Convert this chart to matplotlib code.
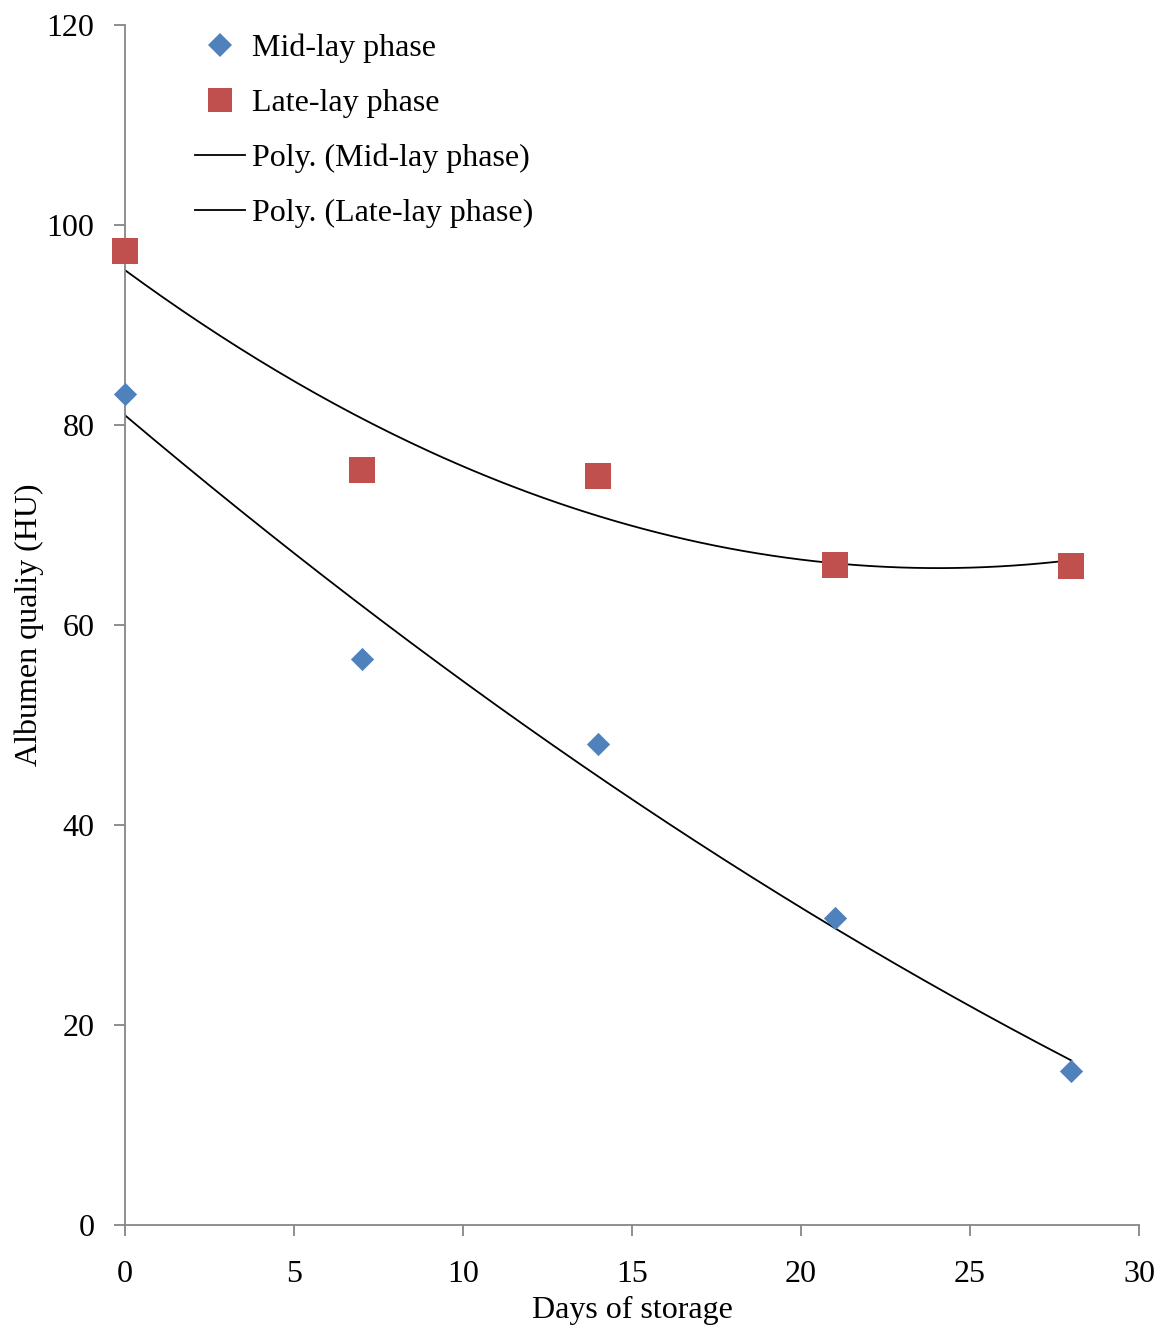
import numpy as np
import matplotlib.pyplot as plt
from matplotlib.lines import Line2D

# data
days = [0, 7, 14, 21, 28]
mid_lay = [83.1, 56.6, 48.1, 30.7, 15.4]
late_lay = [97.4, 75.5, 74.9, 66.0, 65.9]

plt.rcParams['font.family'] = ['Liberation Serif', 'DejaVu Serif']

fig = plt.figure(figsize=(11.69, 13.28), dpi=100)
ax = fig.add_axes([0.1069, 0.0776, 0.8674, 0.9036])

blue = '#4F81BD'
red = '#C0504D'
grey = '#868686'
fs = 23

ax.scatter(days, mid_lay, marker='D', s=140, color=blue, zorder=3,
           linewidths=0, clip_on=False)
ax.scatter(days, late_lay, marker='s', s=330, color=red, zorder=3,
           linewidths=0, clip_on=False)

# 2nd order polynomial trendlines
xs = np.linspace(0, 28, 200)
p_mid = np.polyfit(days, mid_lay, 2)
p_late = np.polyfit(days, late_lay, 2)
ax.plot(xs, np.polyval(p_mid, xs), color='black', lw=1.3, zorder=2)
ax.plot(xs, np.polyval(p_late, xs), color='black', lw=1.3, zorder=2)

ax.set_xlim(0, 30)
ax.set_ylim(0, 120)
ax.set_xticks(range(0, 31, 5))
ax.set_yticks(range(0, 121, 20))

for s in ['top', 'right']:
    ax.spines[s].set_visible(False)
for s in ['left', 'bottom']:
    ax.spines[s].set_color(grey)
    ax.spines[s].set_linewidth(1.3)
ax.tick_params(direction='out', length=8, width=1.3, color=grey, labelsize=fs)
ax.tick_params(axis='x', pad=17)
ax.tick_params(axis='y', pad=14)
ax.set_xlabel('Days of storage', fontsize=fs, labelpad=5)
ax.set_ylabel('Albumen qualiy (HU)', fontsize=fs, labelpad=2)

handles = [
    Line2D([], [], marker='D', color=blue, ls='none', markersize=12, markeredgewidth=0),
    Line2D([], [], marker='s', color=red, ls='none', markersize=17, markeredgewidth=0),
    Line2D([], [], color='black', lw=1.3),
    Line2D([], [], color='black', lw=1.3),
]
labels = ['Mid-lay phase', 'Late-lay phase', 'Poly. (Mid-lay phase)', 'Poly. (Late-lay phase)']
ax.legend(handles, labels, loc='upper left', bbox_to_anchor=(0.05, 1.009),
          frameon=False, fontsize=fs, handlelength=1.56, handletextpad=0.22,
          labelspacing=0.8, borderaxespad=0.2)

fig.savefig('out.png', dpi=100)
